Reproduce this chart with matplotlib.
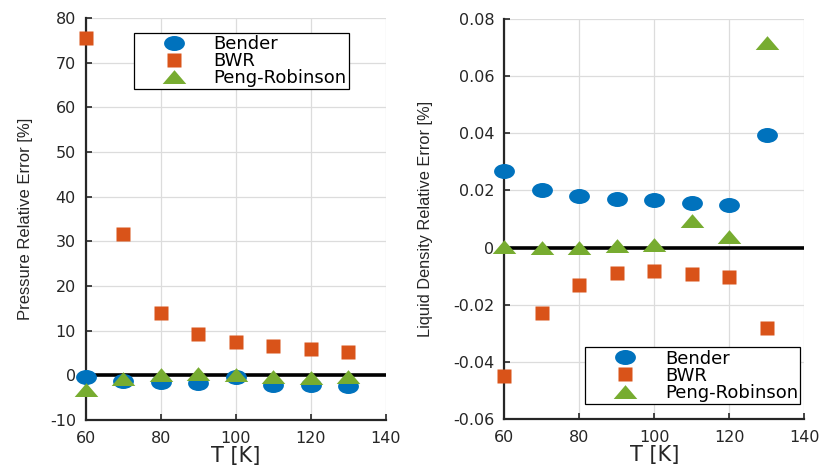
import matplotlib
matplotlib.use("Agg")
import matplotlib.pyplot as plt
import numpy as np
from matplotlib.path import Path

plt.rcParams["font.family"] = ["DejaVu Sans"]
plt.rcParams["axes.unicode_minus"] = False

T = [60, 70, 80, 90, 100, 110, 120, 130]

# pressure relative error [%]
p_bender = [-0.4, -1.2, -1.5, -1.7, -0.4, -2.2, -2.2, -2.5]
p_bwr = [75.5, 31.6, 13.9, 9.2, 7.5, 6.6, 5.9, 5.2]
p_pr = [-3.2, -0.8, 0.0, 0.2, 0.1, -0.4, -0.5, -0.3]

# liquid density relative error [%]
d_bender = [0.0268, 0.0202, 0.0181, 0.0171, 0.0166, 0.0154, 0.0149, 0.0392]
d_bwr = [-0.0449, -0.0230, -0.0131, -0.0089, -0.0082, -0.0093, -0.0103, -0.0282]
d_pr = [0.0003, -0.0002, -0.0001, 0.0006, 0.0009, 0.0094, 0.0038, 0.0717]

labels = ["Bender", "BWR", "Peng-Robinson"]
colors = ["#0072BD", "#D95319", "#77AC30"]

# squashed markers, like the stretched matlab figure
circ = Path.unit_circle()
ellipse = Path(circ.vertices * [1.0, 0.72], circ.codes)
tri = Path([(-1, -0.55), (1, -0.55), (0, 0.62), (-1, -0.55)],
           [Path.MOVETO, Path.LINETO, Path.LINETO, Path.CLOSEPOLY])
markers = [ellipse, "s", tri]
sizes = [15, 9.5, 17]

narrow = ["Liberation Sans Narrow", "Liberation Sans"]

fig = plt.figure(figsize=(8.24, 4.68), dpi=100)
ax1 = fig.add_axes([0.104, 0.1026, 0.364, 0.859])
ax2 = fig.add_axes([0.612, 0.1047, 0.364, 0.855])


def style(ax):
    ax.grid(True, color="#dcdcdc", lw=0.9)
    ax.set_axisbelow(True)
    for s in ["top", "right"]:
        ax.spines[s].set_visible(False)
    for s in ["left", "bottom"]:
        ax.spines[s].set_linewidth(1.6)
        ax.spines[s].set_color("#262626")
    ax.tick_params(direction="in", length=4, width=1.2, labelsize=11.5,
                   colors="#262626")
    ax.tick_params(axis="x", pad=8)
    ax.tick_params(axis="y", pad=7)
    ax.set_xlim(60, 140)
    ax.set_xticks([60, 80, 100, 120, 140])
    ax.axhline(0, color="black", lw=2.6, zorder=1.5)
    ax.set_xlabel("T [K]", fontsize=15, color="#262626", labelpad=0)


for ax, data in [(ax1, [p_bender, p_bwr, p_pr]), (ax2, [d_bender, d_bwr, d_pr])]:
    style(ax)
    for y, lab, c, m, ms in zip(data, labels, colors, markers, sizes):
        ax.plot(T, y, ls="none", marker=m, ms=ms, color=c, mec="none",
                label=lab, clip_on=False, zorder=3)

ax1.set_ylim(-10, 80)
ax1.set_yticks(np.arange(-10, 81, 10))
ax1.set_ylabel("Pressure Relative Error [%]", fontsize=12, family=narrow,
               color="#262626")
ax1.yaxis.set_label_coords(-0.177, 0.5)

ax2.set_ylim(-0.06, 0.08)
ax2.set_yticks(np.arange(-0.06, 0.081, 0.02))
ax2.set_yticklabels(["-0.06", "-0.04", "-0.02", "0", "0.02", "0.04", "0.06", "0.08"])
ax2.set_ylabel("Liquid Density Relative Error [%]", fontsize=11.8, family=narrow,
               color="#262626")
ax2.yaxis.set_label_coords(-0.237, 0.5)

leg_kw = dict(fontsize=13, frameon=True, fancybox=False, edgecolor="black",
              framealpha=1, handlelength=4.2, handletextpad=0.1,
              labelspacing=-0.05, borderpad=0.12, borderaxespad=0)
l1 = ax1.legend(loc="upper left", bbox_to_anchor=(0.16, 0.963), **leg_kw)
l2 = ax2.legend(loc="lower right", bbox_to_anchor=(0.987, 0.0375), **leg_kw)
for leg in (l1, l2):
    leg.get_frame().set_linewidth(0.9)

fig.savefig("out.png", dpi=100)
